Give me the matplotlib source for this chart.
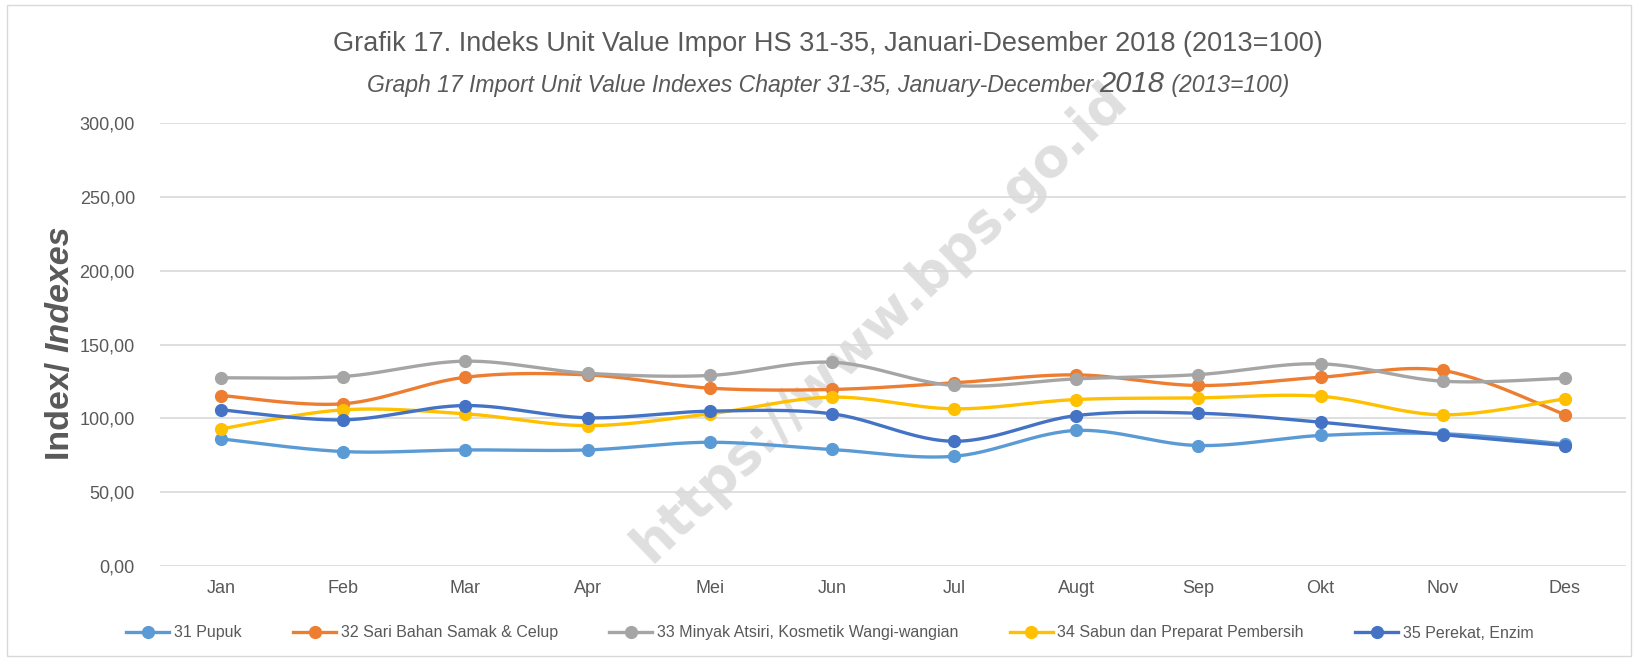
import numpy as np
import matplotlib
matplotlib.use("Agg")
import matplotlib.pyplot as plt
from matplotlib.patches import Rectangle
from matplotlib.ticker import FuncFormatter

plt.rcParams['font.family'] = ['Liberation Sans Narrow', 'Liberation Sans', 'DejaVu Sans']

# ── data ──────────────────────────────────────────────────────────────────
months = ['Jan', 'Feb', 'Mar', 'Apr', 'Mei', 'Jun', 'Jul', 'Augt', 'Sep', 'Okt', 'Nov', 'Des']

pupuk   = [86.0, 77.4, 78.5, 78.5, 83.7, 78.8, 74.2, 91.7, 81.5, 88.3, 89.5, 82.5]
samak   = [115.4, 109.8, 127.8, 129.4, 120.4, 119.5, 124.0, 129.4, 122.2, 127.8, 132.4, 102.5]
minyak  = [127.4, 128.3, 138.7, 130.5, 129.0, 138.0, 122.2, 126.7, 129.6, 136.9, 125.1, 127.1]
sabun   = [92.8, 105.7, 103.0, 95.0, 103.0, 114.3, 106.4, 112.7, 113.8, 114.9, 102.3, 113.2]
perekat = [105.7, 98.9, 108.6, 100.3, 104.8, 103.0, 84.4, 101.8, 103.4, 97.3, 88.9, 81.5]

series_names = ['31 Pupuk', '32 Sari Bahan Samak & Celup',
                '33 Minyak Atsiri, Kosmetik Wangi-wangian',
                '34 Sabun dan Preparat Pembersih', '35 Perekat, Enzim']
series_vals = [pupuk, samak, minyak, sabun, perekat]
colors = ['#5B9BD5', '#ED7D31', '#A5A5A5', '#FFC000', '#4472C4']

TXT = '#595959'
W, H = 1638, 661


def smooth(x, y, n=30):
    """Excel-like smoothed line: Catmull-Rom via cubic Bezier segments."""
    x = np.asarray(x, float)
    y = np.asarray(y, float)
    px = np.concatenate([[x[0]], x, [x[-1]]])
    py = np.concatenate([[y[0]], y, [y[-1]]])
    xs, ys = [], []
    t = np.linspace(0, 1, n)
    for i in range(1, len(px) - 2):
        p0 = np.array([px[i], py[i]])
        p3 = np.array([px[i + 1], py[i + 1]])
        c1 = p0 + (p3 - np.array([px[i - 1], py[i - 1]])) / 6.0
        c2 = p3 - (np.array([px[i + 2], py[i + 2]]) - p0) / 6.0
        b = ((1 - t) ** 3)[:, None] * p0 + (3 * (1 - t) ** 2 * t)[:, None] * c1 \
            + (3 * (1 - t) * t ** 2)[:, None] * c2 + (t ** 3)[:, None] * p3
        xs.append(b[:, 0])
        ys.append(b[:, 1])
    return np.concatenate(xs), np.concatenate(ys)


fig = plt.figure(figsize=(W / 100, H / 100), dpi=100)
fig.patch.set_facecolor('white')
fig.patches.append(Rectangle((7 / W, 5 / H), 1624 / W, 651 / H,
                             transform=fig.transFigure, fill=False,
                             edgecolor='#d9d9d9', lw=1.0))

ax = fig.add_axes([160 / W, 95.3 / H, 1466 / W, 442.4 / H])
ax.patch.set_alpha(0)   # let the watermark show beneath the lines

xpos = np.arange(len(months))
for name, vals, c in zip(series_names, series_vals, colors):
    sx, sy = smooth(xpos, vals)
    ax.plot(sx, sy, color=c, lw=2.4, solid_capstyle='round', zorder=3)
    ax.plot(xpos, vals, ls='none', marker='o', ms=8.5, color=c, zorder=3)

ax.set_xlim(-0.5, len(months) - 0.5)
ax.set_ylim(0, 300)
ax.set_yticks(np.arange(0, 301, 50))
ax.yaxis.set_major_formatter(FuncFormatter(lambda v, p: f"{v:.2f}".replace('.', ',')))
ax.set_xticks(xpos)
ax.set_xticklabels(months)
ax.grid(axis='y', color='#d9d9d9', lw=1.2)
ax.set_axisbelow(True)
for s in ax.spines.values():
    s.set_visible(False)
ax.tick_params(length=0, labelsize=13, labelcolor=TXT)
ax.tick_params(axis='y', pad=18)
ax.tick_params(axis='x', pad=10)

# watermark (drawn before the axes)
fig.text(880 / W, 1 - 322 / H, 'https://www.bps.go.id', rotation=44,
         ha='center', va='center', fontsize=38.5, fontweight='bold',
         color='#bfbfbf', alpha=0.5, family='DejaVu Sans', zorder=-1)

# title
fig.text(828 / W, 1 - 44 / H, 'Grafik 17. Indeks Unit Value Impor HS 31-35, Januari-Desember 2018 (2013=100)',
         ha='center', va='center', fontsize=19.5, color=TXT)

fig.canvas.draw()
r = fig.canvas.get_renderer()

# subtitle: italic, with a larger "2018"
parts = [('Graph 17 Import Unit Value Indexes Chapter 31-35, January-December ', 16.6),
         ('2018', 21), (' (2013=100)', 16.6)]
texts = []
for s, fs in parts:
    t = fig.text(0, 1 - 92 / H, s, ha='left', va='baseline', fontsize=fs,
                 style='italic', color=TXT)
    texts.append(t)
widths = [t.get_window_extent(r).width for t in texts]
start = 828 - sum(widths) / 2
for t, w in zip(texts, widths):
    t.set_x(start / W)
    start += w

# y label: "Index/ " bold + "Indexes" bold italic
lab_fam = ['Liberation Sans', 'DejaVu Sans']
t1 = fig.text(60 / W, 0, 'Index/ ', rotation=90, ha='center', va='bottom',
              fontsize=24.5, fontweight='bold', color=TXT, family=lab_fam)
t2 = fig.text(60 / W, 0, 'Indexes', rotation=90, ha='center', va='bottom',
              fontsize=24.5, fontweight='bold', style='italic', color=TXT, family=lab_fam)
h1 = t1.get_window_extent(r).height
h2 = t2.get_window_extent(r).height
ybot = (H - 343) - (h1 + h2) / 2
t1.set_y(ybot / H)
t2.set_y((ybot + h1) / H)

# legend
handles = [plt.Line2D([], [], color=c, lw=2.4, marker='o', ms=8.5) for c in colors]
fig.legend(handles, series_names, loc='center', bbox_to_anchor=(830 / W, 1 - 633 / H),
           ncol=5, frameon=False, fontsize=11.5, labelcolor=TXT,
           handlelength=2.7, handletextpad=0.3, columnspacing=3.2)

fig.savefig('out.png', dpi=100, facecolor=fig.get_facecolor())
